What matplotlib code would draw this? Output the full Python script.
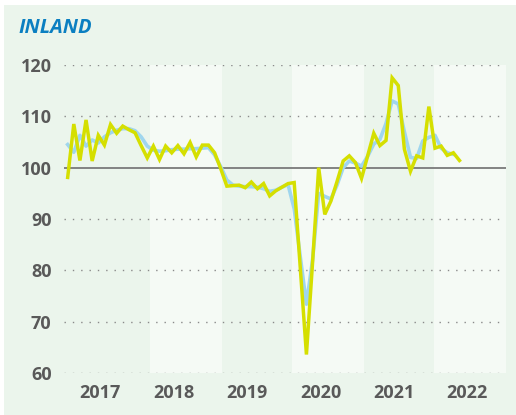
import matplotlib
matplotlib.use("Agg")
import matplotlib.pyplot as plt
from matplotlib.patches import Rectangle

# ---- data (monthly, Jan 2017 = index 0) ----
years = ["2017", "2018", "2019", "2020", "2021", "2022"]

actual = [98.1, 108.5, 101.4, 109.3, 101.3, 106.3, 104.4, 108.4, 106.7, 108.1,
          107.4, 106.8, 104.3, 101.9, 104.2, 101.6, 104.2, 102.9, 104.3, 102.7,
          104.9, 102.1, 104.4, 104.4, 102.9, 99.8, 96.4, 96.5, 96.6, 96.1,
          97.2, 95.9, 96.9, 94.5, 95.5, 96.2, 96.9, 97.1, 80.4, 63.6,
          81.5, 100.0, 90.9, 93.5, 97.3, 101.3, 102.3, 101.0, 97.9, 102.3,
          106.7, 104.3, 105.3, 117.5, 116.0, 103.6, 99.3, 102.3, 101.9, 111.9,
          103.8, 104.2, 102.4, 102.9, 101.4]

trend = [104.5, 103.0, 106.3, 104.2, 105.4, 104.8, 106.0, 106.8, 107.3, 107.6,
         107.6, 107.2, 106.0, 104.2, 103.4, 103.2, 103.3, 103.5, 103.6, 103.6,
         103.7, 103.7, 103.8, 103.9, 102.5, 100.2, 97.6, 96.6, 96.4, 96.3,
         96.3, 96.2, 95.9, 95.4, 95.6, 96.2, 96.7, 92.0, 82.6, 73.4,
         82.0, 95.0, 94.4, 93.9, 96.6, 100.0, 101.3, 100.9, 100.3, 102.2,
         104.6, 105.5, 108.6, 113.0, 112.4, 107.0, 102.0, 101.8, 105.2, 105.9,
         106.3, 103.8, 102.9, 102.6]

yticks = [60, 70, 80, 90, 100, 110, 120]

# ---- style ----
BG = "#ebf5ec"
BAND = "#f5faf5"
YELLOW = "#d5df00"
BLUE = "#9fd6ee"
TXT = "#595959"
TITLE = "#0b7fc1"

fig = plt.figure(figsize=(5.16, 4.15), dpi=100)
fig.patch.set_facecolor("white")
fig.patches.append(Rectangle((4 / 516, 0), 1, 410 / 415, transform=fig.transFigure,
                             facecolor=BG, edgecolor="none", zorder=-10))

ax = fig.add_axes([64 / 516, 42 / 415, 442 / 516, 308 / 415])
ax.set_facecolor("none")
ax.set_xlim(-0.6, 71.6)
ax.set_ylim(60, 120)

# alternating light year bands
band_edges = [(13.45, 25.2), (36.65, 48.4), (59.85, 71.6)]
for a, b in band_edges:
    ax.axvspan(a, b, color=BAND, zorder=0, lw=0)

# gridlines
for v in yticks:
    if v == 100:
        ax.axhline(v, color="#7a7a7a", lw=1.3, zorder=1)
    else:
        ax.axhline(v, color="#8a8a8a", lw=1.0, ls=(0, (1, 5)), zorder=1)

x_tr = list(range(len(trend)))
x_ac = list(range(len(actual)))
ax.plot(x_tr, trend, color=BLUE, lw=2.6, zorder=3, solid_joinstyle="round")
ax.plot(x_ac, actual, color=YELLOW, lw=2.5, zorder=4, solid_joinstyle="miter")

for s in ax.spines.values():
    s.set_visible(False)

ax.set_yticks(yticks)
ax.set_yticklabels([str(v) for v in yticks])
ax.set_xticks([5.3 + 12 * k for k in range(len(years))])
ax.set_xticklabels(years)
ax.tick_params(axis="both", length=0, colors=TXT)
ax.tick_params(axis="y", pad=9)
ax.tick_params(axis="x", pad=8)
for lab in ax.get_yticklabels() + ax.get_xticklabels():
    lab.set_fontfamily("Open Sans")
    lab.set_fontweight("bold")
    lab.set_fontsize(13)

fig.text(18 / 516, 1 - 28 / 415, "INLAND", family="Open Sans", weight="bold",
         style="italic", size=14.5, color=TITLE, va="center", ha="left")

fig.savefig("out.png", dpi=100, facecolor=fig.get_facecolor())
